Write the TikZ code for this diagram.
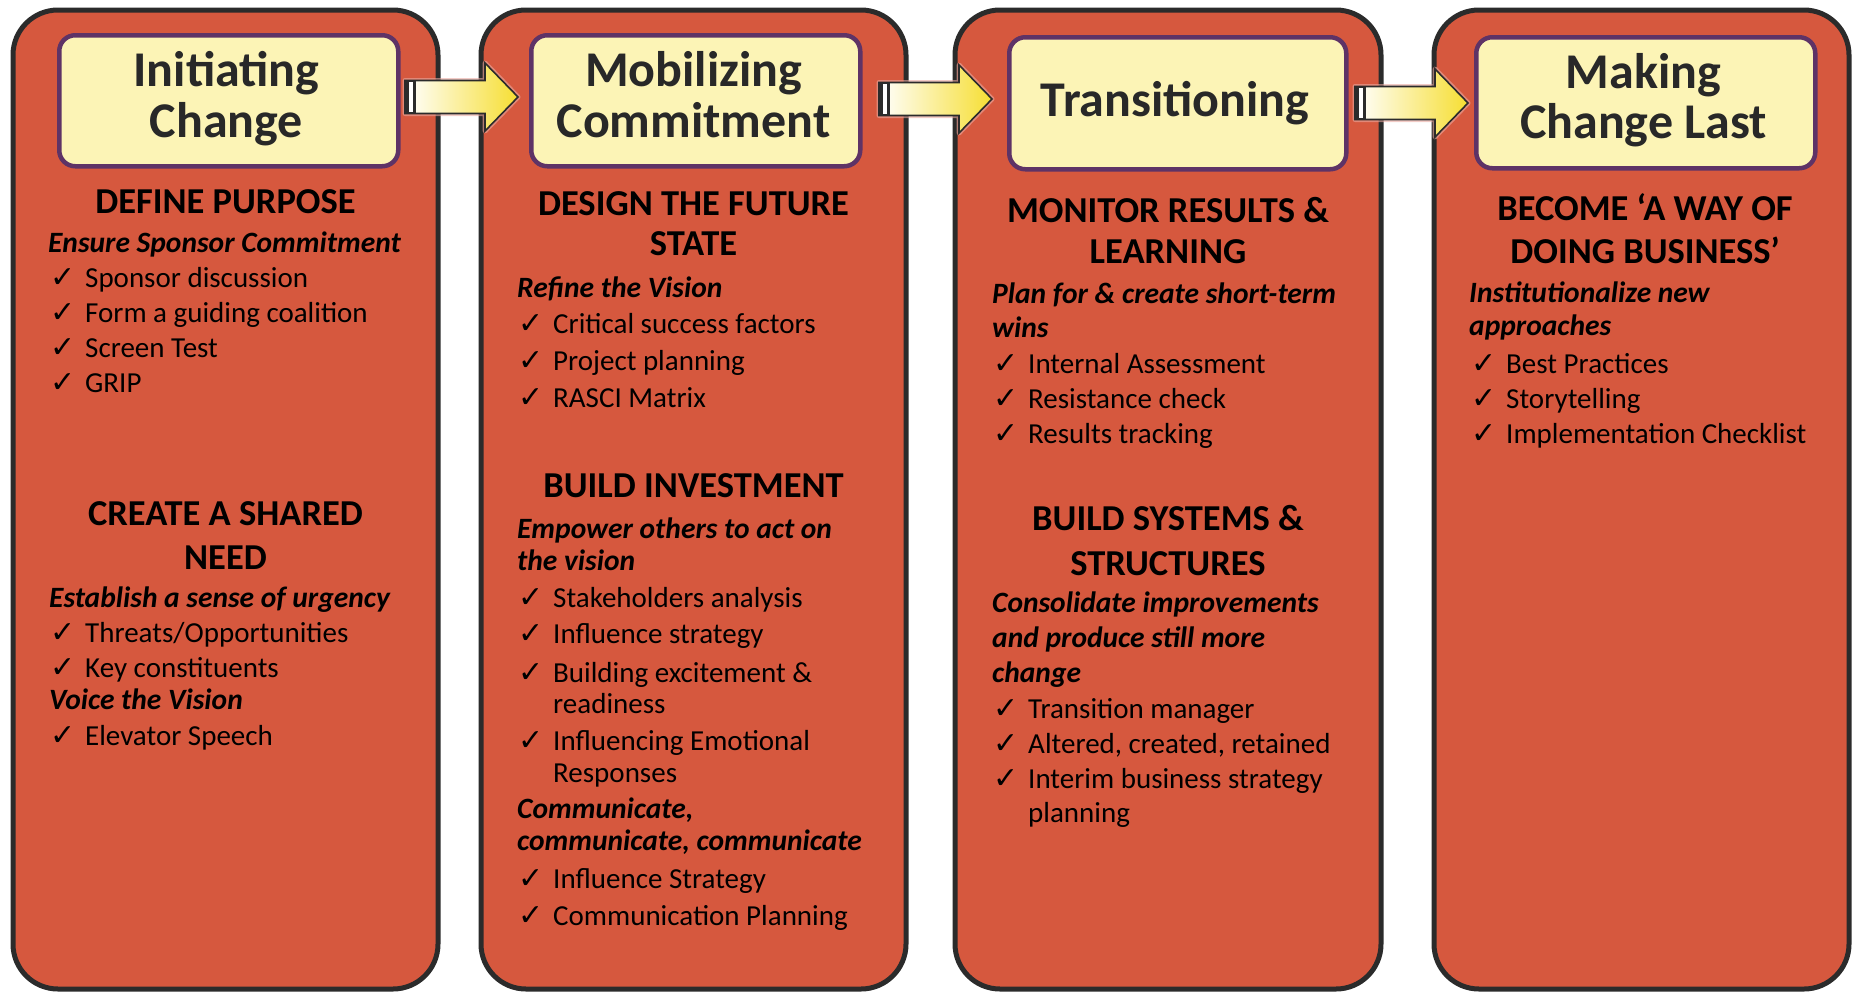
\documentclass[tikz,border=0pt]{standalone}
\usepackage{fontspec}
\setmainfont{Carlito}
\newfontfamily\checkfont{DejaVu Sans}
\definecolor{colfill}{HTML}{D6583E}
\definecolor{colline}{HTML}{2B2B2B}
\definecolor{hdrfill}{HTML}{FCF4B6}
\definecolor{hdrline}{HTML}{5E3366}
\definecolor{ttlcol}{HTML}{282828}
\definecolor{arrowyellow}{HTML}{F6DE32}
\definecolor{glow}{HTML}{E9A9A0}
\newcommand\ck{\makebox[35pt][l]{\checkfont\fontsize{30pt}{30pt}\selectfont ✓}}

\begin{document}
\begin{tikzpicture}[x=1pt,y=-1pt,
  column/.style={draw=colline, line width=5pt, fill=colfill, rounded corners=45pt},
  header/.style={draw=hdrline, line width=4.5pt, fill=hdrfill, rounded corners=16pt},
  ttl/.style={anchor=base, inner sep=0pt, text=ttlcol, font=\fontsize{50pt}{50pt}\selectfont\bfseries},
  heading/.style={anchor=base, inner sep=0pt, font=\fontsize{36.5pt}{41pt}\selectfont\bfseries},
  subhead/.style={anchor=base west, inner sep=0pt, font=\fontsize{29.5pt}{35pt}\selectfont\bfseries\itshape},
  item/.style={anchor=base west, inner sep=0pt, font=\fontsize{29pt}{35pt}\selectfont},
  arrowglow/.style={draw=glow, line width=5pt, opacity=0.6, line join=round},
  blockarrow/.style={draw=colline, line width=1.6pt, left color=white, right color=arrowyellow, line join=miter},
]
\useasboundingbox (0,0) rectangle (1854,993);

% the four phase columns
\draw[column] (13,10) rectangle (438,989);
\draw[column] (481,10) rectangle (906,989);
\draw[column] (955,10) rectangle (1381,989);
\draw[column] (1434,10) rectangle (1849,989);

% phase title boxes
\node[header, minimum width=339pt, minimum height=131pt, anchor=north west] (h1) at (57,33) {};
\node[header, minimum width=329pt, minimum height=131pt, anchor=north west] (h2) at (529,33) {};
\node[header, minimum width=337pt, minimum height=132pt, anchor=north west] (h3) at (1007,35) {};
\node[header, minimum width=339pt, minimum height=131pt, anchor=north west] (h4) at (1474,35) {};

% block arrows between phases
\foreach \n/\x/\y in {1/405/97, 2/879/99, 3/1355/103}{
  \coordinate (a\n) at (\x,\y);
  \path[arrowglow] (a\n) ++(0,-16.5) -- ++(80,0) -- ++(0,-17.5) -- ++(33,34) -- ++(-33,34) -- ++(0,-17.5) -- ++(-80,0) -- cycle;
  \path[blockarrow] (a\n) ++(0,-16.5) -- ++(80,0) -- ++(0,-17.5) -- ++(33,34) -- ++(-33,34) -- ++(0,-17.5) -- ++(-80,0) -- cycle;
  \fill[colline] (a\n) ++(0,-16.5) rectangle ++(11,33);
  \fill[white] (a\n) ++(3.5,-15) rectangle ++(4.5,30);
}

% ---------- Initiating Change ----------
\node[ttl] (t1a) at (226.5,86) {Initiating};
\node[ttl] (t1b) at (226.5,137) {Change};
\node[heading] (p1a) at (225.5,213) {DEFINE PURPOSE};
\node[subhead] (s1a) at (48,252) {Ensure Sponsor Commitment};
\node[item] (i1a) at (50,287) {\ck Sponsor discussion};
\node[item] (i1b) at (50,322) {\ck Form a guiding coalition};
\node[item] (i1c) at (50,357) {\ck Screen Test};
\node[item] (i1d) at (50,392) {\ck GRIP};
\node[heading] (p1b) at (225.5,525) {CREATE A SHARED};
\node[heading] (p1c) at (225.5,569) {NEED};
\node[subhead] (s1b) at (49,607) {Establish a sense of urgency};
\node[item] (i1e) at (50,642) {\ck Threats/Opportunities};
\node[item] (i1f) at (50,677) {\ck Key constituents};
\node[subhead] (s1c) at (49,709) {Voice the Vision};
\node[item] (i1g) at (50,745) {\ck Elevator Speech};

% ---------- Mobilizing Commitment ----------
\node[ttl] (t2a) at (693.5,86) {Mobilizing};
\node[ttl] (t2b) at (693.5,137) {Commitment};
\node[heading] (p2a) at (693.5,215) {DESIGN THE FUTURE};
\node[heading] (p2b) at (693.5,255) {STATE};
\node[subhead] (s2a) at (517,297) {Refine the Vision};
\node[item] (i2a) at (518,333) {\ck Critical success factors};
\node[item] (i2b) at (518,370) {\ck Project planning};
\node[item] (i2c) at (518,407) {\ck RASCI Matrix};
\node[heading] (p2c) at (693.5,497) {BUILD INVESTMENT};
\node[subhead] (s2b) at (517,538) {Empower others to act on};
\node[subhead] (s2c) at (517,570) {the vision};
\node[item] (i2d) at (518,607) {\ck Stakeholders analysis};
\node[item] (i2e) at (518,643) {\ck Influence strategy};
\node[item] (i2f) at (518,682) {\ck Building excitement \&};
\node[item] (i2g) at (553,713) {readiness};
\node[item] (i2h) at (518,750) {\ck Influencing Emotional};
\node[item] (i2i) at (553,782) {Responses};
\node[subhead] (s2d) at (517,818) {Communicate,};
\node[subhead] (s2e) at (517,850) {communicate, communicate};
\node[item] (i2j) at (518,888) {\ck Influence Strategy};
\node[item] (i2k) at (518,925) {\ck Communication Planning};

% ---------- Transitioning ----------
\node[ttl] (t3a) at (1175,116) {Transitioning};
\node[heading] (p3a) at (1168,222) {MONITOR RESULTS \&};
\node[heading] (p3b) at (1168,263) {LEARNING};
\node[subhead] (s3a) at (992,303) {Plan for \& create short-term};
\node[subhead] (s3b) at (992,337) {wins};
\node[item] (i3a) at (993,373) {\ck Internal Assessment};
\node[item] (i3b) at (993,408) {\ck Resistance check};
\node[item] (i3c) at (993,443) {\ck Results tracking};
\node[heading] (p3c) at (1168,530) {BUILD SYSTEMS \&};
\node[heading] (p3d) at (1168,575) {STRUCTURES};
\node[subhead] (s3c) at (992,612) {Consolidate improvements};
\node[subhead] (s3d) at (992,647) {and produce still more};
\node[subhead] (s3e) at (992,682) {change};
\node[item] (i3d) at (993,718) {\ck Transition manager};
\node[item] (i3e) at (993,753) {\ck Altered, created, retained};
\node[item] (i3f) at (993,788) {\ck Interim business strategy};
\node[item] (i3g) at (1028,822) {planning};

% ---------- Making Change Last ----------
\node[ttl] (t4a) at (1643.5,88) {Making};
\node[ttl] (t4b) at (1643.5,138) {Change Last};
\node[heading] (p4a) at (1645,220) {BECOME ‘A WAY OF};
\node[heading] (p4b) at (1645,263) {DOING BUSINESS’};
\node[subhead] (s4a) at (1469,302) {Institutionalize new};
\node[subhead] (s4b) at (1469,335) {approaches};
\node[item] (i4a) at (1471,373) {\ck Best Practices};
\node[item] (i4b) at (1471,408) {\ck Storytelling};
\node[item] (i4c) at (1471,443) {\ck Implementation Checklist};
\end{tikzpicture}
\end{document}
